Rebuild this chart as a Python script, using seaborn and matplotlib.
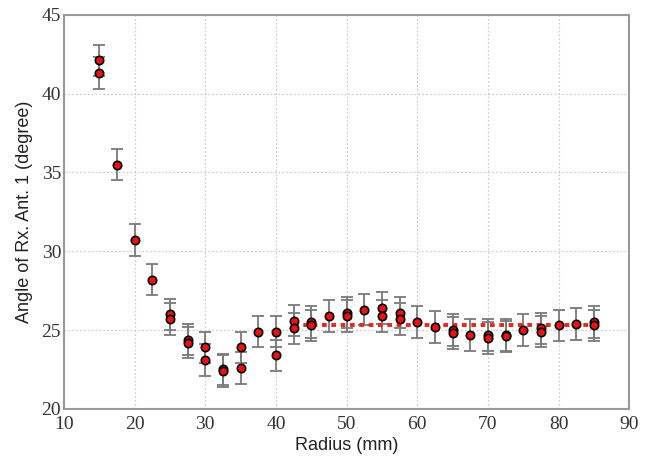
import matplotlib
matplotlib.use("Agg")
import matplotlib.pyplot as plt
import seaborn as sns
import pandas as pd
import numpy as np

radius = [15, 15, 17.5, 20, 22.5, 25, 25, 27.5, 27.5, 30, 30, 32.5, 32.5, 35, 35,
          37.5, 40, 40, 42.5, 42.5, 45, 45, 47.5, 50, 50, 52.5, 55, 55, 57.5, 57.5,
          60, 62.5, 65, 65, 67.5, 70, 70, 72.5, 72.5, 75, 77.5, 77.5, 80, 82.5, 85, 85]
angle = [42.1, 41.3, 35.5, 30.7, 28.2, 26.0, 25.7, 24.4, 24.2, 23.9, 23.1, 22.5, 22.4, 23.9, 22.6,
         24.9, 24.9, 23.4, 25.6, 25.1, 25.5, 25.3, 25.9, 26.1, 25.9, 26.3, 26.4, 25.9, 26.1, 25.7,
         25.5, 25.2, 25.0, 24.8, 24.7, 24.7, 24.5, 24.7, 24.6, 25.0, 25.1, 24.9, 25.3, 25.4, 25.5, 25.3]
error = [1.0] * len(radius)

fit_x = [42.5, 85]
fit_y = [25.35, 25.35]

xticks = [10, 20, 30, 40, 50, 60, 70, 80, 90]
yticks = [20, 25, 30, 35, 40, 45]

df = pd.DataFrame({"Radius": radius, "Angle": angle, "err": error})

sns.set_style("white")
fig = plt.figure(figsize=(6.52, 4.62), dpi=100)
ax = fig.add_axes([0.098, 0.115, 0.867, 0.853])

ax.errorbar(df["Radius"], df["Angle"], yerr=df["err"], fmt="none",
            ecolor="#7a7a7a", elinewidth=1.3, capsize=4, capthick=1.3, zorder=2)
sns.lineplot(x=fit_x, y=fit_y, ax=ax, color="#e8261c", linestyle=(0, (1.2, 1.2)),
             linewidth=2.8, zorder=3)
sns.scatterplot(data=df, x="Radius", y="Angle", ax=ax, color="#ee1111",
                edgecolor="black", linewidth=1.2, s=36, zorder=4)

ax.set_xlim(10, 90)
ax.set_ylim(20, 45)
ax.set_xticks(xticks)
ax.set_yticks(yticks)
ax.set_xticklabels([str(t) for t in xticks], family="Liberation Serif", fontsize=14, color="#333333")
ax.set_yticklabels([str(t) for t in yticks], family="Liberation Serif", fontsize=14, color="#333333")
ax.grid(True, color="#c8c8c8", linestyle=(0, (1.5, 2)), linewidth=0.8)
ax.tick_params(axis="both", direction="in", length=4, color="#888888", pad=2)
ax.tick_params(axis="x", pad=5)
for sp in ax.spines.values():
    sp.set_color("#999999")
    sp.set_linewidth(1.5)

ax.set_xlabel("Radius (mm)", family="Liberation Sans", fontsize=13, color="#222222", labelpad=3)
ax.set_ylabel("Angle of Rx. Ant. 1 (degree)", family="Liberation Sans", fontsize=13, color="#222222", labelpad=6)

fig.savefig("out.png", dpi=100)
